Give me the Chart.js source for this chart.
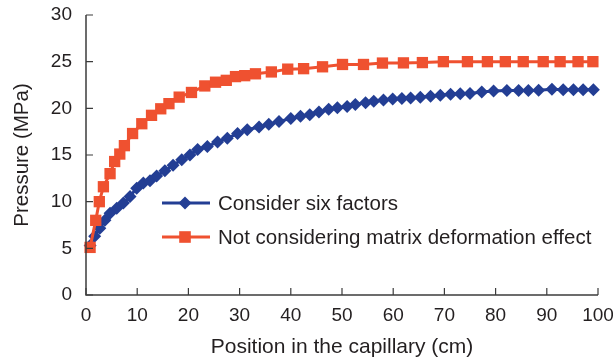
<!DOCTYPE html>
<html>
<head>
<meta charset="utf-8">
<script src="https://cdn.jsdelivr.net/npm/chart.js@4/dist/chart.umd.min.js"></script>
<style>
html,body{margin:0;padding:0;background:#fff;}
#wrap{width:613px;height:360px;}
</style>
</head>
<body>
<div id="wrap"><canvas id="c" width="613" height="360"></canvas></div>
<script>
const seriesNames = ["Consider six factors", "Not considering matrix deformation effect"];
const xTicks = [0,10,20,30,40,50,60,70,80,90,100];
const yTicks = [0,5,10,15,20,25,30];

const sixX = [0.8,1.7,2.7,3.7,4.7,6.0,7.3,8.6,9.9,11.2,12.5,13.8,15.4,17.0,18.7,20.3,21.8,23.7,25.7,27.6,29.6,31.5,33.8,35.7,37.7,40.0,41.9,43.7,45.5,47.4,49.1,51.0,52.6,54.6,56.2,58.1,59.9,61.7,63.4,65.3,67.3,69.2,71.2,73.1,75.0,77.3,79.6,82.2,84.5,86.4,88.4,91.0,93.2,95.2,97.1,99.1];
const sixY = [5.3,6.3,7.15,8.0,8.75,9.3,9.85,10.55,11.45,12.0,12.25,12.75,13.3,13.9,14.5,15.0,15.6,15.9,16.4,16.8,17.3,17.7,18.0,18.3,18.6,18.9,19.15,19.3,19.6,19.9,20.05,20.2,20.4,20.6,20.75,20.9,21.0,21.05,21.1,21.2,21.3,21.4,21.5,21.55,21.6,21.75,21.85,21.9,21.9,21.9,21.95,22.05,22.0,22.0,22.0,22.0];

const notX = [0.8,1.9,2.6,3.4,4.7,5.6,6.6,7.5,9.1,10.9,12.8,14.6,16.2,18.2,20.6,23.2,25.3,27.4,29.2,31.0,33.1,36.2,39.4,42.5,46.2,50.1,54.2,57.9,62.0,65.7,69.8,74.5,78.4,81.9,85.4,89.3,92.6,96.1,99.0];
const notY = [5.1,8.0,10.0,11.6,13.0,14.3,15.1,16.0,17.3,18.35,19.25,19.95,20.5,21.2,21.7,22.4,22.8,23.0,23.4,23.5,23.7,23.9,24.2,24.25,24.45,24.7,24.7,24.85,24.87,24.9,25.0,25.0,25.0,25.0,25.0,25.0,25.0,25.0,25.0];

const BLUE = '#233E94';
const ORANGE = '#EF5130';
const FONT = "'Liberation Sans', Arial, Helvetica, sans-serif";
const TXT = '#231f20';

function pts(xs, ys){ return xs.map((x,i)=>({x:x, y:ys[i]})); }

const axesPlugin = {
  id: 'axesPlugin',
  afterDraw(chart){
    const ctx = chart.ctx;
    const xs = chart.scales.x, ys = chart.scales.y;
    const ca = chart.chartArea;
    ctx.save();
    ctx.strokeStyle = '#3c3c3c';
    ctx.lineWidth = 1.5;
    ctx.beginPath();
    ctx.moveTo(ca.left, ys.getPixelForValue(30));
    ctx.lineTo(ca.left, ca.bottom);
    ctx.lineTo(xs.getPixelForValue(100), ca.bottom);
    ctx.stroke();
    ctx.lineWidth = 1.2;
    ctx.beginPath();
    xTicks.forEach(v=>{
      const px = xs.getPixelForValue(v);
      ctx.moveTo(px, ca.bottom); ctx.lineTo(px, ca.bottom - 7);
    });
    yTicks.forEach(v=>{
      const py = ys.getPixelForValue(v);
      ctx.moveTo(ca.left, py); ctx.lineTo(ca.left + 7, py);
    });
    ctx.stroke();

    // legend
    const lx0 = 162, lx1 = 210, mx = 185;
    const rows = [{y:203, color:BLUE, shape:'diamond', text:seriesNames[0]},
                  {y:237, color:ORANGE, shape:'square', text:seriesNames[1]}];
    rows.forEach(r=>{
      ctx.strokeStyle = r.color; ctx.fillStyle = r.color; ctx.lineWidth = 3;
      ctx.beginPath(); ctx.moveTo(lx0, r.y); ctx.lineTo(lx1, r.y); ctx.stroke();
      ctx.beginPath();
      if (r.shape === 'diamond') {
        const s = 6.5;
        ctx.moveTo(mx - s, r.y); ctx.lineTo(mx, r.y - s); ctx.lineTo(mx + s, r.y); ctx.lineTo(mx, r.y + s);
        ctx.closePath();
      } else {
        const s = 5.8;
        ctx.rect(mx - s, r.y - s, 2*s, 2*s);
      }
      ctx.fill();
      ctx.fillStyle = TXT;
      ctx.font = '20.5px ' + FONT;
      ctx.textAlign = 'left'; ctx.textBaseline = 'middle';
      ctx.fillText(r.text, 218, r.y + 1);
    });
    ctx.restore();
  }
};

new Chart(document.getElementById('c'), {
  type: 'line',
  data: {
    datasets: [
      { label: seriesNames[0], data: pts(sixX, sixY), borderColor: BLUE, backgroundColor: BLUE,
        pointBackgroundColor: BLUE, pointBorderColor: BLUE, pointBorderWidth: 0,
        pointStyle: 'rectRot', pointRadius: 6.5, borderWidth: 3, tension: 0, order: 1, clip: false },
      { label: seriesNames[1], data: pts(notX, notY), borderColor: ORANGE, backgroundColor: ORANGE,
        pointBackgroundColor: ORANGE, pointBorderColor: ORANGE, pointBorderWidth: 0,
        pointStyle: 'rect', pointRadius: 8, borderWidth: 3, tension: 0, order: 0, clip: false }
    ]
  },
  options: {
    responsive: false,
    animation: false,
    events: [],
    layout: { padding: { left: 0, right: 15, top: 15, bottom: 0 } },
    plugins: { legend: { display: false }, tooltip: { enabled: false } },
    scales: {
      x: {
        type: 'linear', min: 0, max: 100,
        grid: { display: false, drawTicks: false },
        border: { display: false },
        ticks: { stepSize: 10, padding: 9, color: TXT, font: { family: FONT, size: 19 }, maxRotation: 0 },
        title: { display: true, text: 'Position in the capillary (cm)', color: TXT, font: { family: FONT, size: 21 }, padding: { top: 0, bottom: 0 } },
        afterFit(s){ s.height = 65; s.paddingLeft = 0; s.paddingRight = 0; }
      },
      y: {
        type: 'linear', min: 0, max: 30,
        grid: { display: false, drawTicks: false },
        border: { display: false },
        ticks: { stepSize: 5, padding: 14, color: TXT, font: { family: FONT, size: 19 } },
        title: { display: true, text: 'Pressure (MPa)', color: TXT, font: { family: FONT, size: 20.5 }, padding: { top: 10, bottom: 0 } },
        afterFit(s){ s.width = 86; s.paddingTop = 0; s.paddingBottom = 0; }
      }
    }
  },
  plugins: [axesPlugin]
});
</script>
</body>
</html>
